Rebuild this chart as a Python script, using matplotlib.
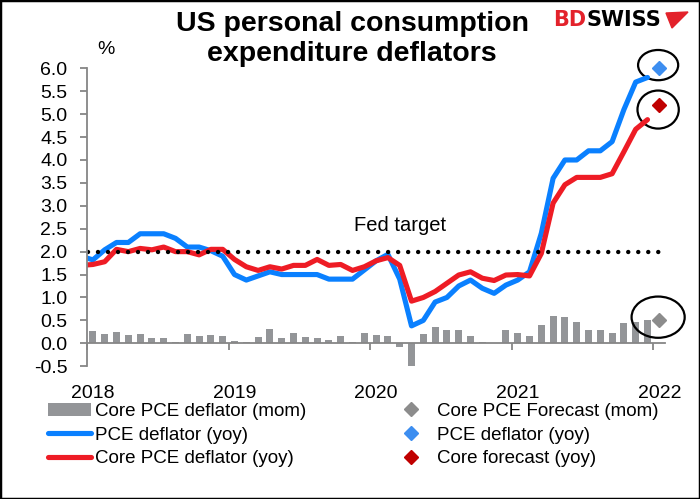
import matplotlib
matplotlib.use('Agg')
import matplotlib.pyplot as plt
from matplotlib.patches import Ellipse, Rectangle, Polygon
import numpy as np

plt.rcParams['font.family'] = ['Liberation Sans', 'DejaVu Sans']

# monthly data Jan 2018 - Dec 2021 (index 0..47), forecasts for Jan 2022 (index 48)
core_mom = [0.27, 0.20, 0.24, 0.18, 0.20, 0.12, 0.12, 0.03, 0.20, 0.16, 0.18, 0.16,
            0.05, 0.03, 0.14, 0.31, 0.12, 0.22, 0.13, 0.11, 0.07, 0.16, 0.02, 0.22,
            0.18, 0.16, -0.07, -0.49, 0.20, 0.36, 0.29, 0.30, 0.15, 0.02, 0.00, 0.30,
            0.22, 0.15, 0.41, 0.60, 0.58, 0.47, 0.30, 0.30, 0.23, 0.44, 0.47, 0.51]
# first value is Dec 2017 (only the lead-in segment is visible)
pce_yoy = [1.90,
           1.82, 2.04, 2.20, 2.20, 2.39, 2.39, 2.39, 2.29, 2.10, 2.10, 2.02, 1.90,
           1.50, 1.38, 1.47, 1.56, 1.50, 1.50, 1.50, 1.50, 1.40, 1.40, 1.40, 1.60,
           1.80, 1.94, 1.40, 0.38, 0.50, 0.90, 1.00, 1.25, 1.38, 1.20, 1.09, 1.27,
           1.38, 1.56, 2.40, 3.60, 4.00, 4.00, 4.20, 4.20, 4.40, 5.10, 5.70, 5.80]
core_yoy = [1.70,
            1.72, 1.78, 2.05, 2.00, 2.07, 2.04, 2.10, 2.00, 2.00, 1.93, 2.05, 2.05,
            1.83, 1.67, 1.59, 1.67, 1.62, 1.70, 1.70, 1.83, 1.70, 1.72, 1.59, 1.67,
            1.80, 1.87, 1.70, 0.92, 1.00, 1.13, 1.31, 1.49, 1.56, 1.42, 1.37, 1.49,
            1.50, 1.47, 1.96, 3.06, 3.46, 3.62, 3.62, 3.62, 3.70, 4.18, 4.67, 4.88]
fc_core_mom = 0.5
fc_pce_yoy = 6.0
fc_core_yoy = 5.2
fed_target = 2.0
years = ['2018', '2019', '2020', '2021', '2022']

x_bar = np.arange(len(core_mom))
x_line = np.arange(len(pce_yoy)) - 1
x_fc = len(core_mom)

c_bar = '#939598'
c_blue = '#0A80FF'
c_red = '#EE1C25'

fig = plt.figure(figsize=(7, 4.99), dpi=100)
ax = fig.add_axes([0.1243, 0.2661, 0.826, 0.597])

h_bar = ax.bar(x_bar, core_mom, width=0.6, color=c_bar, label='Core PCE deflator (mom)')
h_pce, = ax.plot(x_line, pce_yoy, color=c_blue, lw=3.7, solid_joinstyle='round',
                 solid_capstyle='round', label='PCE deflator (yoy)')
h_core, = ax.plot(x_line, core_yoy, color=c_red, lw=3.7, solid_joinstyle='round',
                  solid_capstyle='round', label='Core PCE deflator (yoy)')
ax.plot([-0.4, x_fc], [fed_target, fed_target], color='black', lw=3.2,
        linestyle=(0, (0.001, 2.25)), dash_capstyle='round')

h_fc1, = ax.plot([x_fc], [fc_core_mom], ls='none', marker='D', ms=7, color='#8C8C8C',
                 clip_on=False, label='Core PCE Forecast (mom)')
h_fc2, = ax.plot([x_fc], [fc_pce_yoy], ls='none', marker='D', ms=7, color='#3D8EF0',
                 clip_on=False, label='PCE deflator (yoy)')
h_fc3, = ax.plot([x_fc], [fc_core_yoy], ls='none', marker='D', ms=7, color='#C00000',
                 clip_on=False, label='Core forecast (yoy)')

# circles around the forecasts
for (yc, w, h) in [(fc_pce_yoy + 0.07, 3.4, 0.66), (fc_core_yoy - 0.1, 3.5, 0.83),
                   (fc_core_mom + 0.07, 4.5, 0.9)]:
    ax.add_patch(Ellipse((x_fc - 0.1, yc), w, h, fill=False, edgecolor='black',
                         lw=1.6, clip_on=False))

ax.set_xlim(-0.5, len(core_mom) + 0.5)
ax.set_ylim(-0.5, 6.0)
ax.set_yticks(np.arange(-0.5, 6.01, 0.5))
ax.set_yticklabels(['%.1f' % v for v in np.arange(-0.5, 6.01, 0.5)], fontsize=14)
ax.set_xticks(np.arange(len(years)) * 12 - 0.5)
ax.set_xticklabels([])
for i, yr in enumerate(years):
    ax.text(i * 12, -0.092, yr, transform=ax.get_xaxis_transform(),
            ha='center', va='center', fontsize=14)

for s in ['top', 'right']:
    ax.spines[s].set_visible(False)
ax.spines['bottom'].set_position(('data', 0))
ax.spines['left'].set_color('#868686')
ax.spines['bottom'].set_color('#868686')
ax.spines['left'].set_linewidth(1.3)
ax.spines['bottom'].set_linewidth(1.3)
ax.tick_params(axis='y', direction='out', length=5, width=1.3, color='#868686', pad=9)
ax.tick_params(axis='x', direction='out', length=5, width=1.3, color='#868686')

ax.text(26.0, fed_target + 0.58, 'Fed target', ha='center', va='center', fontsize=14.5)

fig.text(106 / 700, 1 - 50 / 499, '%', ha='center', va='center', fontsize=14)
fig.text(352 / 700, 1 - 39 / 499, 'US personal consumption\nexpenditure deflators',
         ha='center', va='center', fontsize=20.5, fontweight='bold', linespacing=1.22)

# logo
t_bd = fig.text(553 / 700, 1 - 20 / 499, 'BD', color='#E3222B', ha='left', va='center',
                fontsize=15, fontweight='bold', family='DejaVu Sans')
fig.canvas.draw()
bb = t_bd.get_window_extent()
fig.text(bb.x1 / 700 + 0.001, 1 - 20 / 499, 'SWISS', color='black', ha='left', va='center',
         fontsize=15, fontweight='bold', family='DejaVu Sans')
fig.patches.append(Polygon([[666 / 700, 1 - 13 / 499], [688 / 700, 1 - 12 / 499],
                            [672 / 700, 1 - 28 / 499]], closed=True,
                           transform=fig.transFigure, color='#E3222B'))

handles = [h_bar, h_pce, h_core, h_fc1, h_fc2, h_fc3]
labels = [h.get_label() for h in handles]
fig.legend(handles, labels, ncol=2, loc='upper left', bbox_to_anchor=(40 / 700, 1 - 395 / 499),
           frameon=False, fontsize=13.5, handlelength=2.3, handletextpad=0.25,
           columnspacing=4.4, labelspacing=0.36, borderaxespad=0)

fig.patches.append(Rectangle((0, 0), 1, 1, transform=fig.transFigure, fill=False,
                             edgecolor='black', lw=2.5))

plt.savefig('out.png', dpi=100)
